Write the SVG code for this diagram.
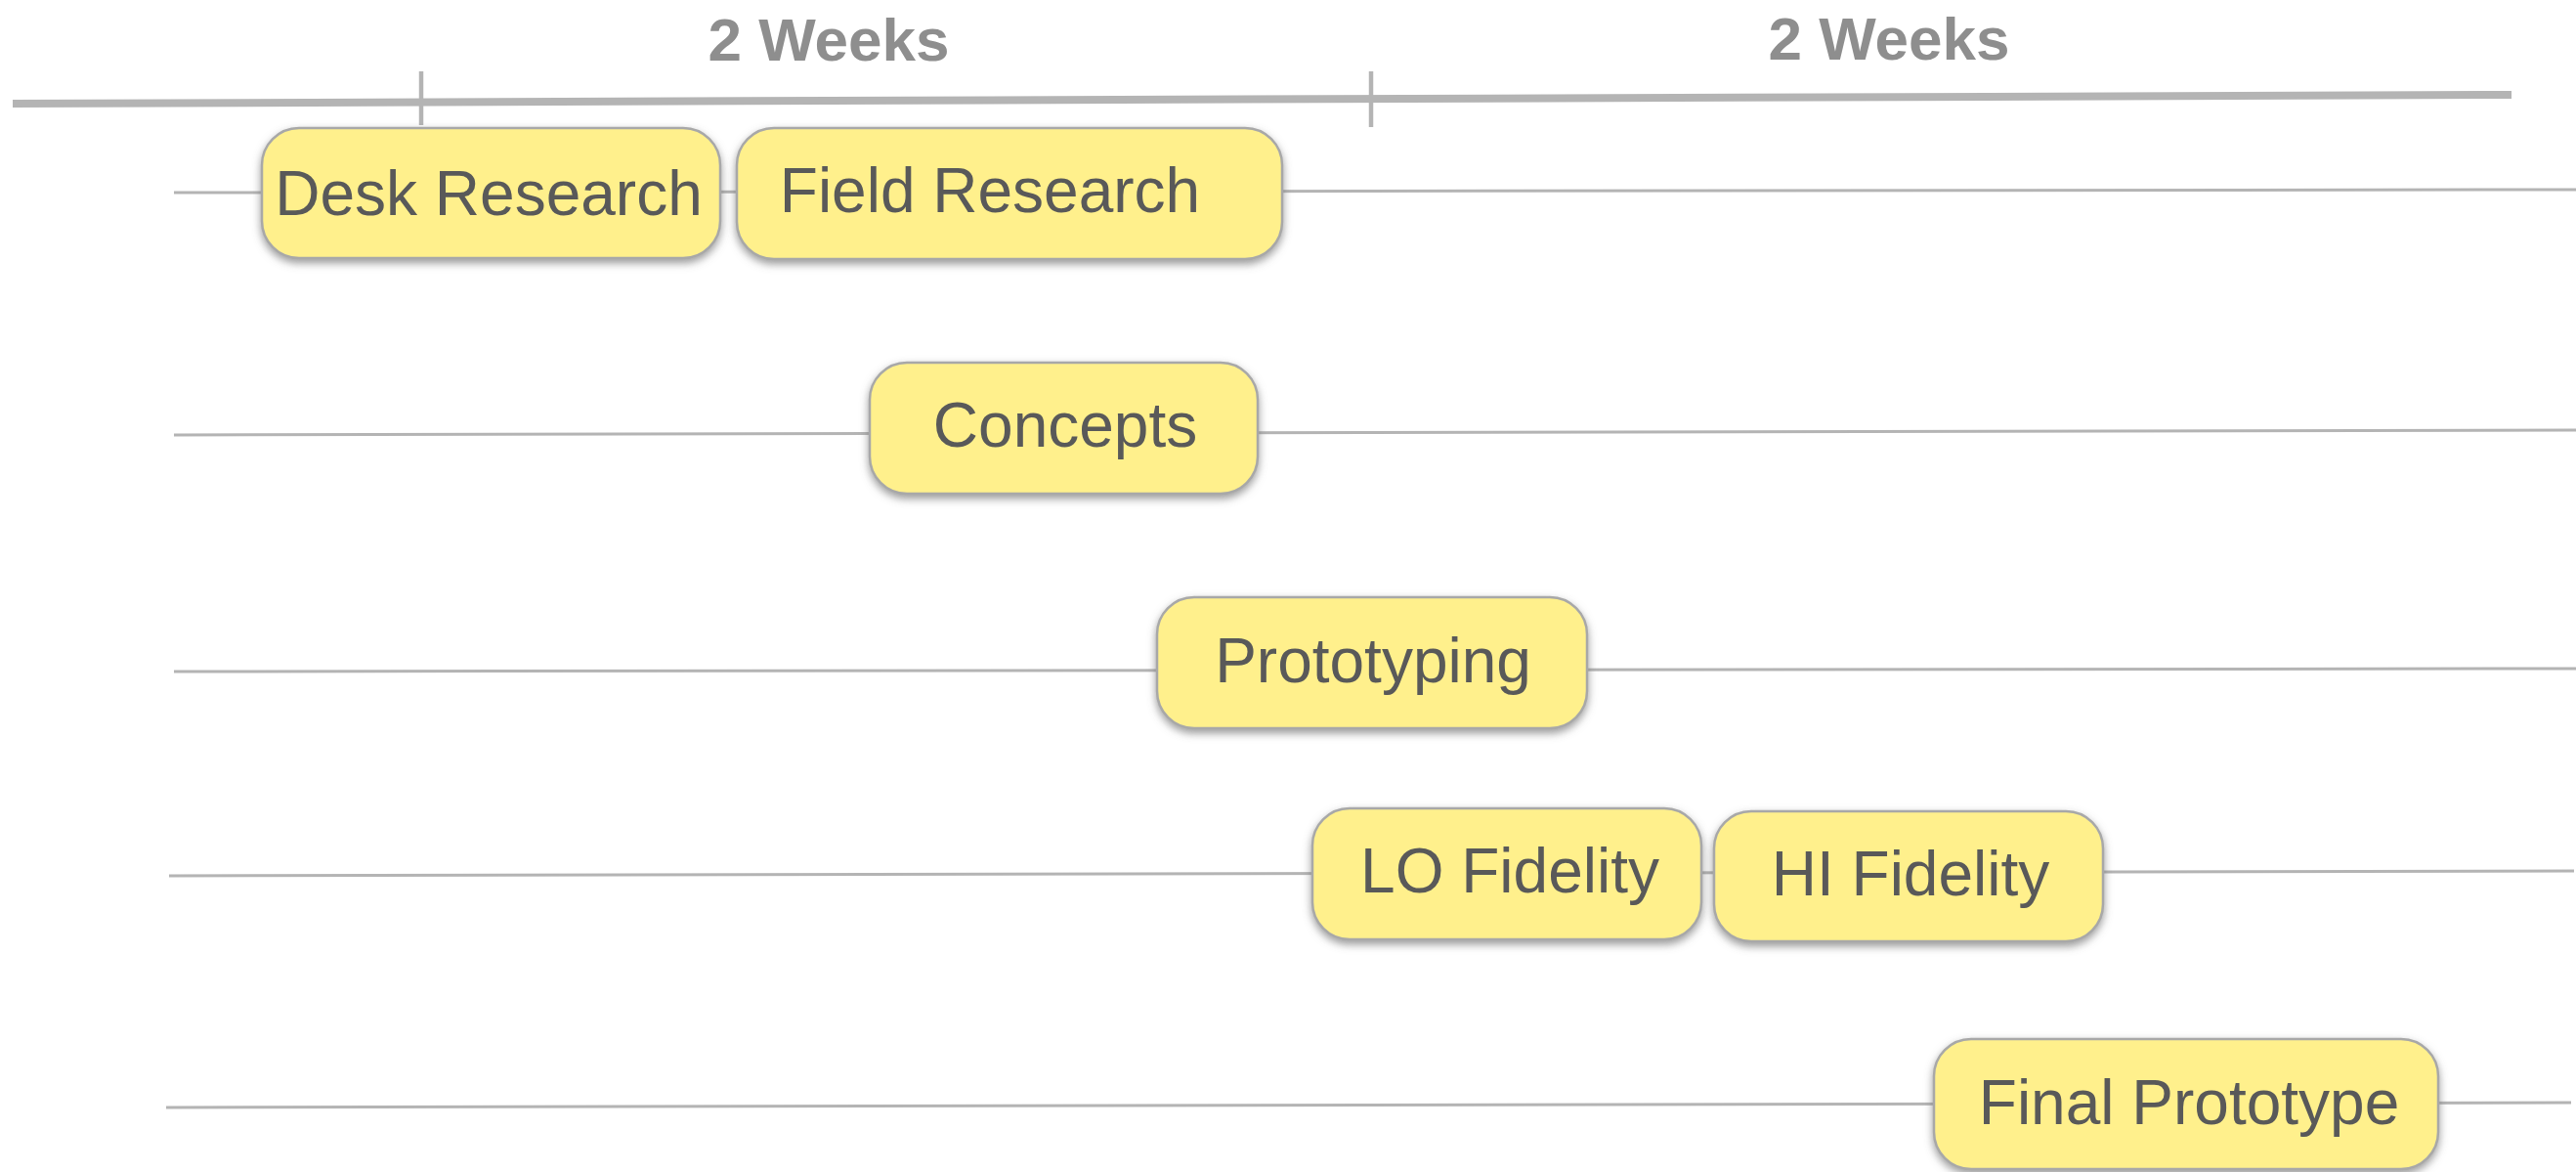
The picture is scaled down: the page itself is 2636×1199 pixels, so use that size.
<svg xmlns="http://www.w3.org/2000/svg" width="2636" height="1199" viewBox="0 0 2636 1199">
<defs>
<filter id="sh" x="-10%" y="-20%" width="120%" height="150%">
<feDropShadow dx="0" dy="4" stdDeviation="4.5" flood-color="#707070" flood-opacity="0.7"/>
</filter>
<style>
.box{fill:#fff08c;stroke:#a8a8a8;stroke-width:2.5;filter:url(#sh)}
.lbl{font-family:"Liberation Sans",Arial,sans-serif;font-size:64px;fill:#595959;text-anchor:middle}
.wk{font-family:"Liberation Sans",Arial,sans-serif;font-size:62px;font-weight:bold;fill:#8e8e8e;text-anchor:middle}
.row{stroke:#b4b4b4;stroke-width:3;fill:none}
.axis{stroke:#b4b4b4;fill:none}
</style>
</defs>
<rect width="2636" height="1199" fill="#ffffff"/>
<g id="timeline">
<line class="axis" x1="13" y1="106" x2="2570" y2="97" stroke-width="8"/>
<line class="axis" x1="431" y1="73" x2="431" y2="128" stroke-width="4.5"/>
<line class="axis" x1="1403" y1="73" x2="1403" y2="130" stroke-width="4.5"/>
<text class="wk" x="848" y="62">2 Weeks</text>
<text class="wk" x="1933" y="61">2 Weeks</text>
</g>
<g id="connectors">
<line class="row" x1="178" y1="197" x2="2636" y2="194"/>
<line class="row" x1="178" y1="445" x2="2636" y2="440"/>
<line class="row" x1="178" y1="687" x2="2636" y2="684"/>
<line class="row" x1="173" y1="896" x2="2634" y2="891"/>
<line class="row" x1="170" y1="1133" x2="2631" y2="1128"/>
</g>
<g id="desk-research">
<rect class="box" x="268" y="131" width="469" height="133" rx="38"/>
<text class="lbl" x="500" y="220">Desk Research</text>
</g>
<g id="field-research">
<rect class="box" x="754" y="131" width="558" height="134" rx="38"/>
<text class="lbl" x="1013" y="217">Field Research</text>
</g>
<g id="concepts">
<rect class="box" x="890" y="371" width="397" height="134" rx="38"/>
<text class="lbl" x="1090" y="457">Concepts</text>
</g>
<g id="prototyping">
<rect class="box" x="1184" y="611" width="440" height="134" rx="38"/>
<text class="lbl" x="1405" y="698">Prototyping</text>
</g>
<g id="lo-fidelity">
<rect class="box" x="1343" y="827" width="398" height="134" rx="38"/>
<text class="lbl" x="1545" y="913">LO Fidelity</text>
</g>
<g id="hi-fidelity">
<rect class="box" x="1754" y="830" width="398" height="133" rx="38"/>
<text class="lbl" x="1955" y="916">HI Fidelity</text>
</g>
<g id="final-prototype">
<rect class="box" x="1979" y="1063" width="516" height="133" rx="38"/>
<text class="lbl" x="2240" y="1150">Final Prototype</text>
</g>
</svg>
